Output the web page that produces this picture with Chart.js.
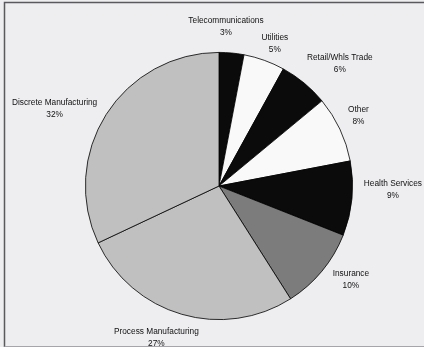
<!DOCTYPE html>
<html>
<head>
<meta charset="utf-8">
<script src="https://cdn.jsdelivr.net/npm/chart.js@4/dist/chart.umd.min.js"></script>
<style>
  html, body { margin: 0; padding: 0; background: #eeeef1; }
  #wrap { width: 424px; height: 347px; position: relative; }
</style>
</head>
<body>
<div id="wrap"><canvas id="pie"></canvas></div>
<script>
// segments, clockwise from 12 o'clock
const categories = ['Telecommunications', 'Utilities', 'Retail/Whls Trade', 'Other',
    'Health Services', 'Insurance', 'Process Manufacturing', 'Discrete Manufacturing'];
const shares = [3, 5, 6, 8, 9, 10, 27, 32];

const sliceColors = ['#0b0b0b', '#f9f9f9', '#0b0b0b', '#f9f9f9',
    '#0b0b0b', '#7c7c7c', '#c0c0c0', '#c0c0c0'];

// small hand tweaks so the outside labels don't sit too tight on the rim
const labelNudge = [[-10, -6], [3, 2], [9, -4], [1, -5], [3, -11], [8, -4], [-11, 4], [-8, 5]];

const FONT = '8.3px "Liberation Sans", Arial, sans-serif'

// grey page + thin frame on top, left and bottom
const framePlugin = {
    id: 'frame',
    beforeDraw(chart) {
        const c = chart.ctx
        c.save()
        c.fillStyle = '#eeeef1'
        c.fillRect(0, 0, chart.width, chart.height)
        c.strokeStyle = '#5a5a5e'
        c.lineWidth = 1.5
        c.beginPath()
        c.moveTo(4.5, chart.height)
        c.lineTo(4.5, 2.5)
        c.lineTo(chart.width, 2.5)
        c.stroke()
        c.strokeStyle = '#a5a5aa'
        c.lineWidth = 1
        c.beginPath()
        c.moveTo(4.5, chart.height - 0.5)
        c.lineTo(chart.width, chart.height - 0.5)
        c.stroke()
        c.restore()
    }
}

// category name + percent outside each slice
const outsideLabels = {
    id: 'outsideLabels',
    afterDatasetsDraw(chart) {
        const c = chart.ctx
        const meta = chart.getDatasetMeta(0)
        const total = shares.reduce((a, b) => a + b, 0)
        c.save()
        c.font = FONT
        c.fillStyle = '#111'
        c.textAlign = 'center'
        c.textBaseline = 'middle'
        meta.data.forEach((arc, i) => {
            const p = arc.getProps(['x', 'y', 'startAngle', 'endAngle', 'outerRadius'], true)
            const mid = (p.startAngle + p.endAngle) / 2
            const dx = Math.cos(mid), dy = Math.sin(mid)
            const pct = Math.round(shares[i] / total * 100) + '%'
            const w = Math.max(c.measureText(categories[i]).width, c.measureText(pct).width)
            const hw = w / 2 + 1, hh = 12
            const ax = p.x + dx * (p.outerRadius + 8)
            const ay = p.y + dy * (p.outerRadius + 8)
            const cx = ax + dx * hw + labelNudge[i][0]
            const cy = ay + dy * hh + labelNudge[i][1]
            c.fillText(categories[i], cx, cy - 6)
            c.fillText(pct, cx, cy + 6)
        })
        c.restore()
    }
}

new Chart(document.getElementById('pie'), {
    type: 'pie',
    data: {
        labels: categories,
        datasets: [{
            data: shares,
            backgroundColor: sliceColors,
            borderColor: '#000',
            borderWidth: 0.8
        }]
    },
    options: {
        responsive: true,
        maintainAspectRatio: false,
        animation: false,
        layout: { padding: { left: 85, right: 71, top: 52, bottom: 27 } },
        plugins: {
            legend: { display: false },
            tooltip: { enabled: false }
        }
    },
    plugins: [framePlugin, outsideLabels]
})
</script>
</body>
</html>
